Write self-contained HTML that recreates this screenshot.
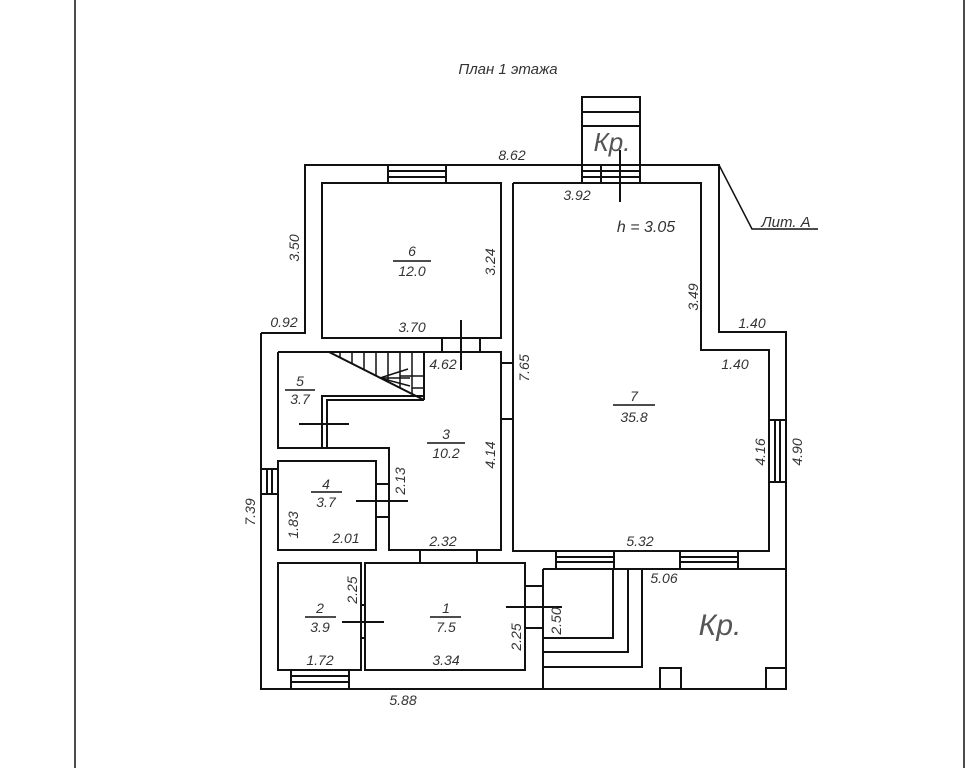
<!DOCTYPE html>
<html><head><meta charset="utf-8"><style>
html,body{margin:0;padding:0;background:#fff;width:972px;height:768px;overflow:hidden}
text{font-family:"Liberation Sans","DejaVu Sans",sans-serif;font-style:italic;font-size:14px;fill:#333;text-anchor:middle}
</style></head><body>
<svg width="972" height="768" viewBox="0 0 972 768" xmlns="http://www.w3.org/2000/svg">
<g stroke="#111" stroke-width="2" fill="none">
<line x1="75" y1="0" x2="75" y2="768" stroke-width="1.5"/>
<line x1="964" y1="0" x2="964" y2="768" stroke-width="1.5"/>
<!-- outer -->
<polyline points="261,333 305,333 305,165 719,165 719,332 786,332 786,689 261,689 261,333"/>
<polyline points="719,165 752,229 818,229" stroke-width="1.5"/>
<!-- room 6 -->
<rect x="322" y="183" width="179" height="155"/>
<!-- room 7 -->
<polyline points="513,183 701,183 701,350 769,350 769,551 513,551 513,183"/>
<!-- room 5/3 -->
<polyline points="278,352 501,352 501,550 389,550 389,448 278,448 278,352"/>
<polyline points="424,396 322,396 322,448"/>
<polyline points="424,400 327,400 327,448"/>
<!-- stairs -->
<line x1="329" y1="352" x2="424" y2="400"/>
<line x1="424" y1="352" x2="424" y2="400"/>
<g stroke-width="1.5">
<line x1="340" y1="352" x2="340" y2="358"/>
<line x1="352" y1="352" x2="352" y2="364"/>
<line x1="364" y1="352" x2="364" y2="370"/>
<line x1="376" y1="352" x2="376" y2="376"/>
<line x1="388" y1="352" x2="388" y2="382"/>
<line x1="400" y1="352" x2="400" y2="388"/>
<line x1="412" y1="352" x2="412" y2="394"/>
<line x1="400" y1="376" x2="424" y2="376"/>
<line x1="412" y1="388" x2="424" y2="388"/>
<line x1="380" y1="378" x2="408" y2="369"/>
<line x1="380" y1="378" x2="410" y2="378"/>
<line x1="380" y1="378" x2="410" y2="386"/>
</g>
<!-- room 4 -->
<rect x="278" y="461" width="98" height="89"/>
<!-- rooms 2,1 -->
<rect x="278" y="563" width="83" height="107"/>
<rect x="365" y="563" width="160" height="107"/>
<!-- doors -->
<line x1="442" y1="338" x2="442" y2="352"/><line x1="480" y1="338" x2="480" y2="352"/>
<line x1="501" y1="363" x2="513" y2="363"/><line x1="501" y1="419" x2="513" y2="419"/>
<line x1="420" y1="550" x2="420" y2="563"/><line x1="477" y1="550" x2="477" y2="563"/>
<line x1="376" y1="484" x2="389" y2="484"/><line x1="376" y1="517" x2="389" y2="517"/>
<line x1="361" y1="605" x2="365" y2="605"/><line x1="361" y1="638" x2="365" y2="638"/>
<line x1="525" y1="586" x2="543" y2="586"/><line x1="525" y1="628" x2="543" y2="628"/>
<!-- markers -->
<line x1="461" y1="320" x2="461" y2="370"/>
<line x1="299" y1="424" x2="349" y2="424"/>
<line x1="356" y1="501" x2="408" y2="501"/>
<line x1="342" y1="622" x2="384" y2="622"/>
<line x1="506" y1="607" x2="562" y2="607"/>
<line x1="620" y1="150" x2="620" y2="202"/>
<!-- windows -->
<rect x="388" y="165" width="58" height="18"/><line x1="388" y1="171" x2="446" y2="171"/><line x1="388" y1="177" x2="446" y2="177"/>
<rect x="582" y="97" width="58" height="86"/><line x1="582" y1="112" x2="640" y2="112"/><line x1="582" y1="126" x2="640" y2="126"/>
<line x1="582" y1="171" x2="640" y2="171"/><line x1="582" y1="177" x2="640" y2="177"/><line x1="601" y1="165" x2="601" y2="183"/>
<rect x="261" y="469" width="17" height="25"/><line x1="267" y1="469" x2="267" y2="494"/><line x1="272" y1="469" x2="272" y2="494"/>
<rect x="291" y="670" width="58" height="19"/><line x1="291" y1="676" x2="349" y2="676"/><line x1="291" y1="682" x2="349" y2="682"/>
<rect x="769" y="420" width="17" height="62"/><line x1="775" y1="420" x2="775" y2="482"/><line x1="780" y1="420" x2="780" y2="482"/>
<rect x="556" y="551" width="58" height="18"/><line x1="556" y1="557" x2="614" y2="557"/><line x1="556" y1="562" x2="614" y2="562"/>
<rect x="680" y="551" width="58" height="18"/><line x1="680" y1="557" x2="738" y2="557"/><line x1="680" y1="562" x2="738" y2="562"/>
<!-- porch -->
<line x1="543" y1="569" x2="786" y2="569"/>
<line x1="543" y1="569" x2="543" y2="689"/>
<polyline points="543,638 613,638 613,569"/>
<polyline points="543,652 628,652 628,569"/>
<polyline points="543,667 642,667 642,569"/>
<rect x="660" y="668" width="21" height="21"/>
<rect x="766" y="668" width="20" height="21"/>
<!-- fraction lines -->
<g stroke-width="1.5">
<line x1="393" y1="261" x2="431" y2="261"/>
<line x1="613" y1="405" x2="655" y2="405"/>
<line x1="285" y1="390" x2="315" y2="390"/>
<line x1="427" y1="443" x2="465" y2="443"/>
<line x1="311" y1="492" x2="342" y2="492"/>
<line x1="305" y1="617" x2="336" y2="617"/>
<line x1="430" y1="617" x2="461" y2="617"/>
</g>
</g>
<text x="508" y="74" style="font-size:15px">План 1 этажа</text>
<text x="512" y="160">8.62</text>
<text x="577" y="200">3.92</text>
<text x="646" y="232" style="font-size:16px">h = 3.05</text>
<text x="786" y="227" style="font-size:15px">Лит. A</text>
<text x="612" y="151" style="font-size:26px;fill:#555">Кр.</text>
<text x="720" y="635" style="font-size:30px;fill:#555">Кр.</text>
<text x="284" y="327">0.92</text>
<text x="412" y="256">6</text><text x="412" y="276">12.0</text>
<text x="412" y="332">3.70</text>
<text x="443" y="369">4.62</text>
<text x="752" y="328">1.40</text>
<text x="735" y="369">1.40</text>
<text x="634" y="401">7</text><text x="634" y="422">35.8</text>
<text x="640" y="546">5.32</text>
<text x="664" y="583">5.06</text>
<text x="300" y="386">5</text><text x="300" y="404">3.7</text>
<text x="446" y="439">3</text><text x="446" y="458">10.2</text>
<text x="326" y="489">4</text><text x="326" y="507">3.7</text>
<text x="346" y="543">2.01</text>
<text x="443" y="546">2.32</text>
<text x="320" y="613">2</text><text x="320" y="632">3.9</text>
<text x="446" y="613">1</text><text x="446" y="632">7.5</text>
<text x="320" y="665">1.72</text>
<text x="446" y="665">3.34</text>
<text x="403" y="705">5.88</text>
<text transform="translate(299,248) rotate(-90)">3.50</text>
<text transform="translate(495,262) rotate(-90)">3.24</text>
<text transform="translate(529,368) rotate(-90)">7.65</text>
<text transform="translate(698,297) rotate(-90)">3.49</text>
<text transform="translate(765,452) rotate(-90)">4.16</text>
<text transform="translate(802,452) rotate(-90)">4.90</text>
<text transform="translate(495,455) rotate(-90)">4.14</text>
<text transform="translate(405,481) rotate(-90)">2.13</text>
<text transform="translate(298,525) rotate(-90)">1.83</text>
<text transform="translate(357,590) rotate(-90)">2.25</text>
<text transform="translate(521,637) rotate(-90)">2.25</text>
<text transform="translate(561,621) rotate(-90)">2.50</text>
<text transform="translate(255,512) rotate(-90)">7.39</text>
</svg>
</body></html>
